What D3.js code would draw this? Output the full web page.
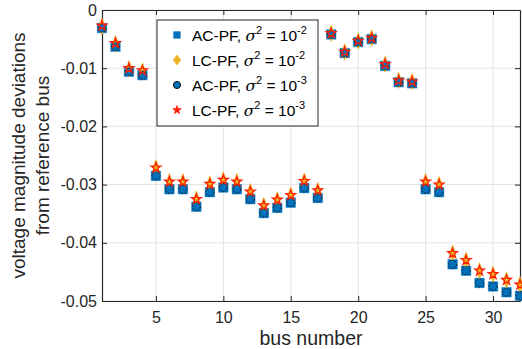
<!DOCTYPE html>
<html lang="en">
<head>
<meta charset="UTF-8">
<title>Voltage magnitude deviations</title>
<script src="https://d3js.org/d3.v7.min.js"></script>
<style>
  body { margin: 0; background: white; }
  svg { display: block; font-family: "Liberation Sans", Arial, sans-serif; }
  .grid line { stroke: #e3e3e3; stroke-width: 1; }
  .tick text { font-size: 16px; fill: #262626; }
</style>
</head>
<body>
<svg width="522" height="349"></svg>
<script>
// bus numbers 1..32
const buses = d3.range(1, 33);

// AC-PF and LC-PF deviations, sigma^2 = 1e-2
const acHigh = [-0.0031, -0.0063, -0.0106, -0.0112, -0.0285, -0.0308, -0.0308, -0.0338,
  -0.0313, -0.0305, -0.0308, -0.0325, -0.0349, -0.0340, -0.0331, -0.0306,
  -0.0323, -0.0042, -0.0074, -0.0055, -0.0050, -0.0096, -0.0124, -0.0126,
  -0.0308, -0.0313, -0.0437, -0.0448, -0.0469, -0.0475, -0.0485, -0.0491];
const lcHigh = [-0.0028, -0.0058, -0.0101, -0.0105, -0.0271, -0.0295, -0.0295, -0.0325,
  -0.0299, -0.0292, -0.0295, -0.0312, -0.0336, -0.0326, -0.0318, -0.0294,
  -0.0310, -0.0040, -0.0072, -0.0053, -0.0048, -0.0093, -0.0121, -0.0123,
  -0.0295, -0.0300, -0.0418, -0.0430, -0.0448, -0.0454, -0.0464, -0.0472];
// sigma^2 = 1e-3
const acLow = [-0.0031, -0.0063, -0.0106, -0.0112, -0.0285, -0.0308, -0.0308, -0.0338,
  -0.0313, -0.0305, -0.0308, -0.0325, -0.0349, -0.0340, -0.0331, -0.0306,
  -0.0323, -0.0042, -0.0074, -0.0055, -0.0050, -0.0096, -0.0124, -0.0126,
  -0.0308, -0.0313, -0.0437, -0.0448, -0.0469, -0.0475, -0.0485, -0.0491];
const lcLow = [-0.0027, -0.0057, -0.0100, -0.0104, -0.0271, -0.0295, -0.0295, -0.0325,
  -0.0299, -0.0292, -0.0295, -0.0312, -0.0336, -0.0326, -0.0318, -0.0294,
  -0.0310, -0.0040, -0.0072, -0.0053, -0.0048, -0.0093, -0.0121, -0.0123,
  -0.0295, -0.0300, -0.0418, -0.0430, -0.0448, -0.0454, -0.0464, -0.0472];

const xTicks = [5, 10, 15, 20, 25, 30];
const yTicks = [0, -0.01, -0.02, -0.03, -0.04, -0.05];

const svg = d3.select("svg");
const margin = { top: 10, right: 2, bottom: 48, left: 102 };
const width = +svg.attr("width") - margin.left - margin.right;
const height = +svg.attr("height") - margin.top - margin.bottom;
const g = svg.append("g").attr("transform", `translate(${margin.left},${margin.top})`);

const x = d3.scaleLinear().domain([1, 32]).range([0, width]);
const y = d3.scaleLinear().domain([-0.05, 0]).range([height, 0]);

// grid
g.append("g").attr("class", "grid")
  .selectAll("line").data(xTicks).join("line")
  .attr("x1", d => x(d)).attr("x2", d => x(d)).attr("y1", 0).attr("y2", height);
g.append("g").attr("class", "grid")
  .selectAll("line").data(yTicks).join("line")
  .attr("y1", d => y(d)).attr("y2", d => y(d)).attr("x1", 0).attr("x2", width);

// axes (ticks pointing inward, like matlab)
const axisColor = "#262626";
const xAxis = g.append("g").attr("transform", `translate(0,${height})`)
  .call(d3.axisBottom(x).tickValues(xTicks).tickSizeInner(-5).tickSizeOuter(0).tickPadding(11));
const xTop = g.append("g")
  .call(d3.axisTop(x).tickValues(xTicks).tickSizeInner(-5).tickSizeOuter(0).tickFormat(""));
const yAxis = g.append("g")
  .call(d3.axisLeft(y).tickValues(yTicks).tickSizeInner(-5).tickSizeOuter(0).tickPadding(5)
    .tickFormat(d => d === 0 ? "0" : d3.format(".2f")(d).replace("−", "-")));
const yRight = g.append("g").attr("transform", `translate(${width},0)`)
  .call(d3.axisRight(y).tickValues(yTicks).tickSizeInner(-5).tickSizeOuter(0).tickFormat(""));
[xAxis, xTop, yAxis, yRight].forEach(a => {
  a.select(".domain").attr("stroke", axisColor).attr("stroke-width", 1.2);
  a.selectAll(".tick line").attr("stroke", axisColor);
});

const pts = g.append("g");

const blue = "#0072bd", orange = "#edb120", red = "#ff1a00";
const series = [
  { vals: acHigh, sym: d3.symbolSquare, size: 90, fill: blue, stroke: blue, sw: 0.5 },
  { vals: lcHigh, sym: d3.symbolDiamond, size: 55, fill: orange, stroke: orange, sw: 0.5 },
  { vals: acLow, sym: d3.symbolCircle, size: 50, fill: blue, stroke: "#111", sw: 1, dash: "1.5,1.5" },
  { vals: lcLow, sym: d3.symbolStar, size: 30, fill: "none", stroke: red, sw: 1.2 }
];
series.forEach(s => {
  pts.append("g").selectAll("path").data(buses).join("path")
    .attr("transform", (d, i) => `translate(${x(d)},${y(s.vals[i])})` + (s.sym === d3.symbolDiamond ? " scale(0.8,1.2)" : ""))
    .attr("d", d3.symbol(s.sym, s.size))
    .attr("fill", s.fill).attr("stroke", s.stroke).attr("stroke-width", s.sw)
    .attr("stroke-dasharray", s.dash || null);
});

// legend
const legendLabels = [
  ["AC-PF, ", "-2"], ["LC-PF, ", "-2"], ["AC-PF, ", "-3"], ["LC-PF, ", "-3"]
];
const legendSizes = [45, 30, 40, 22];
const lg = svg.append("g").attr("transform", "translate(157,20)");
lg.append("rect").attr("width", 161).attr("height", 106)
  .attr("fill", "white").attr("stroke", axisColor).attr("stroke-width", 1);
legendLabels.forEach((lab, i) => {
  const cy = 15 + i * 25;
  const s = series[i];
  lg.append("path")
    .attr("transform", `translate(20,${cy})` + (s.sym === d3.symbolDiamond ? " scale(1.25,1)" : ""))
    .attr("d", d3.symbol(s.sym, legendSizes[i]))
    .attr("fill", i === 3 ? red : s.fill).attr("stroke", s.stroke).attr("stroke-width", i === 3 ? 0.8 : s.sw);
  const t = lg.append("text").attr("x", 35).attr("y", cy + 6)
    .attr("font-size", 15.5).attr("fill", "#000");
  t.append("tspan").text(lab[0]);
  t.append("tspan").attr("font-family", "'DejaVu Serif', serif").attr("font-style", "italic").text("σ");
  t.append("tspan").attr("font-size", 11).attr("dy", -7).text("2");
  t.append("tspan").attr("dy", 7).text(" = 10");
  t.append("tspan").attr("font-size", 11).attr("dy", -7).text(lab[1]);
});

// axis labels
svg.append("text").attr("x", 311).attr("y", 345)
  .attr("text-anchor", "middle").attr("font-size", 19.5).attr("fill", axisColor).text("bus number");
const yl = svg.append("text").attr("transform", `translate(25,${margin.top + height / 2}) rotate(-90)`)
  .attr("text-anchor", "middle").attr("font-size", 19).attr("fill", axisColor);
yl.append("tspan").attr("x", 0).attr("dy", 0).text("voltage magnitude deviations");
yl.append("tspan").attr("x", 0).attr("dy", 24).text("from reference bus");
</script>
</body>
</html>
